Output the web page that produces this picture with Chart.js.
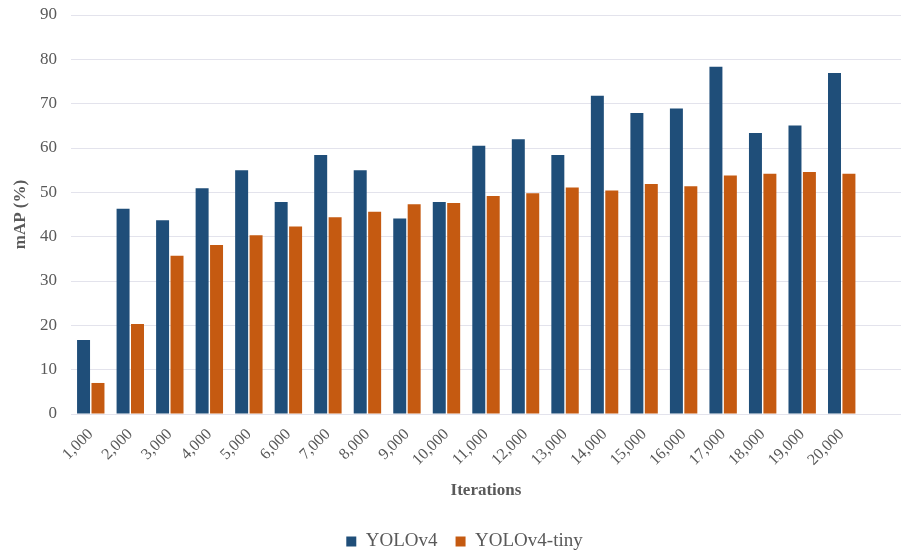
<!DOCTYPE html>
<html>
<head>
<meta charset="utf-8">
<script src="https://cdn.jsdelivr.net/npm/chart.js@4/dist/chart.umd.min.js"></script>
<style>
    html, body { margin: 0; padding: 0; background: #fff; }
    #wrap { width: 901px; height: 554px; position: relative; }
</style>
</head>
<body>
<div id="wrap"><canvas id="chart"></canvas></div>
<script>
// Training iterations (a blank slot is kept at the end, as in the original layout)
const ITERATIONS = ['1,000', '2,000', '3,000', '4,000', '5,000', '6,000', '7,000', '8,000', '9,000', '10,000',
    '11,000', '12,000', '13,000', '14,000', '15,000', '16,000', '17,000', '18,000', '19,000', '20,000', ''];

// mAP (%) per checkpoint
const YOLOV4_MAP = [16.7, 46.3, 43.7, 50.9, 55.0, 47.8, 58.4, 55.0, 44.1, 47.8,
    60.5, 62.0, 58.4, 71.8, 67.9, 68.9, 78.3, 63.4, 65.1, 76.9, null];
const YOLOV4_TINY_MAP = [7.0, 20.3, 35.7, 38.1, 40.3, 42.3, 44.4, 45.6, 47.3, 47.6,
    49.2, 49.8, 51.1, 50.4, 51.9, 51.4, 53.8, 54.2, 54.6, 54.2, null];

const Y_TICKS = [0, 10, 20, 30, 40, 50, 60, 70, 80, 90];

const FONT = "'Liberation Serif', 'Times New Roman', serif";
const TEXT_GRAY = '#595959';

const LEGEND_HEIGHT = 38;
const X_AXIS_HEIGHT = 102;

// keep the legend strip short even with wide item spacing, and nudge it
const legendShift = {
    id: 'legendShift',
    afterInit(chart) {
        const lg = chart.legend;
        if (!lg) return;
        const fit = lg.fit.bind(lg);
        lg.fit = function () {
            fit();
            this.height = LEGEND_HEIGHT;
        };
    },
    afterLayout(chart) {
        const lg = chart.legend;
        if (!lg) return;
        lg.left += 22;
        lg.top -= 2;
        lg.bottom -= 2;
    }
};

new Chart(document.getElementById('chart'), {
    type: 'bar',
    data: {
        labels: ITERATIONS,
        datasets: [
            {
                label: 'YOLOv4',
                data: YOLOV4_MAP,
                backgroundColor: '#1F4E79',
                categoryPercentage: 0.73,
                barPercentage: 0.9
            },
            {
                label: 'YOLOv4-tiny',
                data: YOLOV4_TINY_MAP,
                backgroundColor: '#C55A11',
                categoryPercentage: 0.73,
                barPercentage: 0.9
            }
        ]
    },
    plugins: [legendShift],
    options: {
        responsive: true,
        maintainAspectRatio: false,
        animation: false,
        layout: { padding: { top: 15, right: 0, left: 6, bottom: 0 } },
        plugins: {
            legend: {
                position: 'bottom',
                labels: {
                    font: { family: FONT, size: 19 },
                    color: TEXT_GRAY,
                    usePointStyle: true,
                    pointStyle: 'rect',
                    boxWidth: 10,
                    boxHeight: 10,
                    padding: 18
                }
            },
            tooltip: { enabled: false }
        },
        scales: {
            x: {
                grid: { display: false },
                border: { display: false },
                afterFit: (axis) => {
                    axis.height = X_AXIS_HEIGHT;
                    axis.paddingLeft = 0;
                    axis.paddingRight = 0;
                },
                ticks: {
                    font: { family: FONT, size: 16 },
                    color: TEXT_GRAY,
                    maxRotation: 45,
                    minRotation: 45,
                    autoSkip: false,
                    padding: 3
                },
                title: {
                    display: true,
                    text: 'Iterations',
                    font: { family: FONT, size: 17, weight: 'bold' },
                    color: TEXT_GRAY,
                    padding: { top: 11, bottom: 15 }
                }
            },
            y: {
                min: 0,
                max: 90,
                afterBuildTicks: (axis) => {
                    axis.ticks = Y_TICKS.map((v) => ({ value: v }));
                },
                afterFit: (axis) => {
                    axis.width = 65;
                    axis.paddingTop = 0;
                    axis.paddingBottom = 0;
                },
                grid: { color: '#e3e3ec', drawTicks: false, lineWidth: 1 },
                border: { display: false },
                ticks: {
                    font: { family: FONT, size: 17 },
                    color: TEXT_GRAY,
                    padding: 14
                },
                title: {
                    display: true,
                    text: 'mAP (%)',
                    font: { family: FONT, size: 17, weight: 'bold' },
                    color: TEXT_GRAY,
                    padding: { top: 4, bottom: 4 }
                }
            }
        }
    }
});
</script>
</body>
</html>
